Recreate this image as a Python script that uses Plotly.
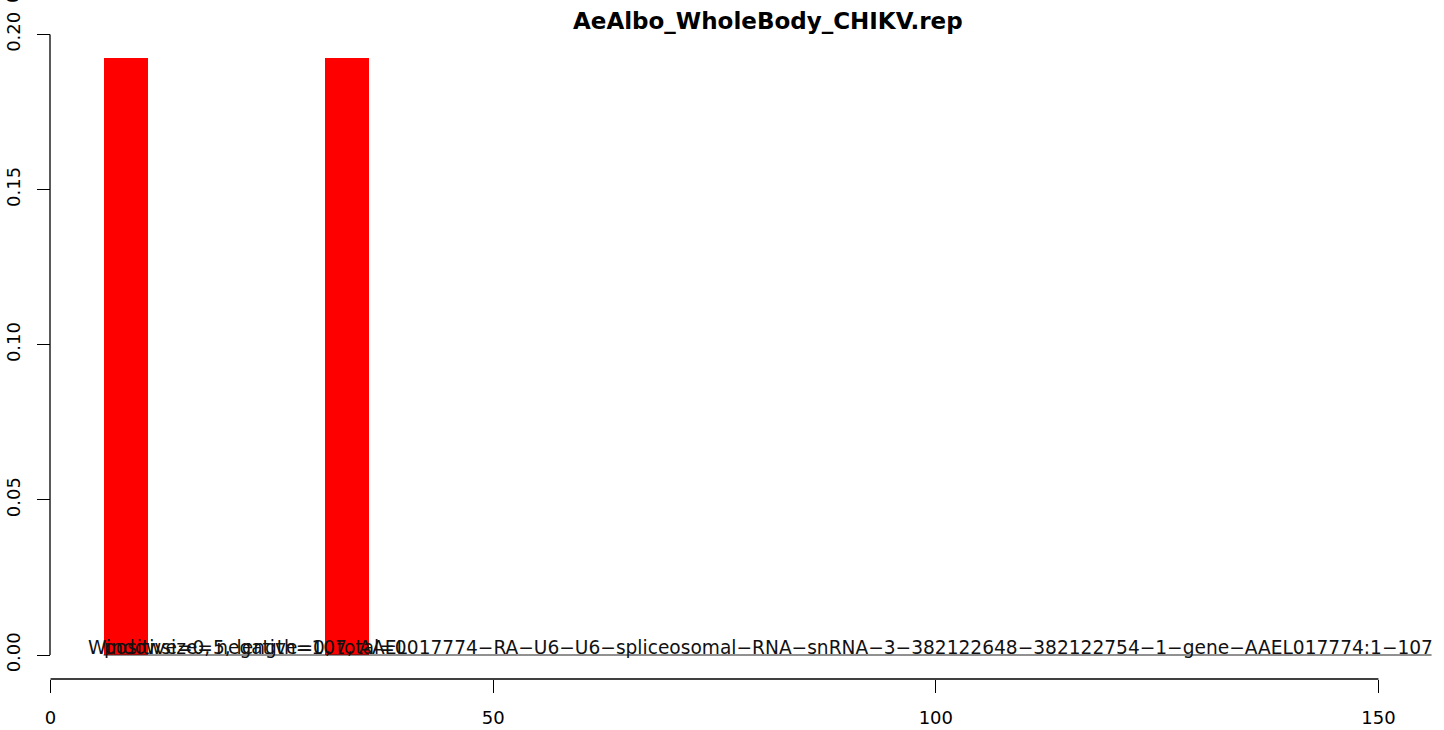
import plotly.graph_objects as go

# ---- data ----
title_text = "AeAlbo_WholeBody_CHIKV.rep"
window_size = 5
bar_start = [6, 31]
bar_value = [0.1924, 0.1924]
zero_line_x = [6, 156]
zero_line_y = [0, 0]
x_ticks = [0, 50, 100, 150]
y_ticks = [0.0, 0.05, 0.10, 0.15, 0.20]
info_text = ("Windowsize=5, length=107, AAEL017774\u2212RA\u2212U6\u2212U6\u2212spliceosomal\u2212RNA\u2212snRNA\u22123"
             "\u2212382122648\u2212382122754\u22121\u2212gene\u2212AAEL017774:1\u2212107")
count_text = "positive=0, negative=0, total=0"
info_x = 4.0
count_x = 5.8

W, H = 1444, 730
FONT = "DejaVu Sans, Liberation Sans, Arial, sans-serif"

# pixel calibration for axes
x0_px, x_scale = 50.5, 8.853
y0_px, y_scale = 655.0, 3102.5
x_range = [-x0_px / x_scale, (W - x0_px) / x_scale]
y_range = [(y0_px - H) / y_scale, y0_px / y_scale]

fig = go.Figure()
fig.add_trace(go.Bar(
    x=bar_start, y=bar_value, width=window_size, offset=0,
    marker=dict(color="#FF0000", line=dict(width=0)), showlegend=False,
    hoverinfo="skip"))
fig.add_trace(go.Scatter(
    x=zero_line_x, y=zero_line_y, mode="lines",
    line=dict(color="#222222", width=1), showlegend=False, hoverinfo="skip"))

xaxis_pos = (H - 679) / H
yaxis_pos = 50 / W

fig.update_layout(
    width=W, height=H,
    margin=dict(l=0, r=0, t=0, b=0),
    paper_bgcolor="white", plot_bgcolor="white",
    font=dict(family=FONT, size=18, color="black"),
    bargap=0,
    xaxis=dict(range=x_range, domain=[0, 1], anchor="free", position=xaxis_pos,
               showgrid=False, zeroline=False, showline=False,
               ticks="outside", ticklen=13, tickwidth=1, tickcolor="black",
               tickvals=x_ticks, ticktext=[str(v) for v in x_ticks],
               ticklabelstandoff=9,
               tickfont=dict(family=FONT, size=18, color="black"),
               automargin=False, fixedrange=True),
    yaxis=dict(range=y_range, domain=[0, 1], anchor="free", position=yaxis_pos,
               showgrid=False, zeroline=False, showline=False,
               ticks="outside", ticklen=13, tickwidth=1, tickcolor="black",
               tickvals=y_ticks, ticktext=["%.2f" % v for v in y_ticks],
               tickangle=-90, ticklabelstandoff=10,
               tickfont=dict(family=FONT, size=18, color="black"),
               automargin=False, fixedrange=True),
    shapes=[
        dict(type="line", xref="x", yref="paper", x0=x_ticks[0], x1=x_ticks[-1],
             y0=xaxis_pos, y1=xaxis_pos, line=dict(color="black", width=1.3)),
        dict(type="line", xref="paper", yref="y", x0=yaxis_pos, x1=yaxis_pos,
             y0=y_ticks[0], y1=y_ticks[-1], line=dict(color="black", width=1.3)),
    ],
    annotations=[
        dict(text="<b>" + title_text + "</b>", xref="paper", yref="paper",
             x=768 / W, y=1 - 21 / H, xanchor="center", yanchor="middle",
             showarrow=False, font=dict(family=FONT, size=23, color="black")),
        dict(text=info_text, xref="x", yref="y", x=info_x, y=0,
             xanchor="left", yanchor="bottom", yshift=-5, showarrow=False,
             font=dict(family=FONT, size=18.6, color="#111111")),
        dict(text=count_text, xref="x", yref="y", x=count_x, y=0,
             xanchor="left", yanchor="bottom", yshift=-5, showarrow=False,
             font=dict(family=FONT, size=18.6, color="#111111")),
        dict(text="0", xref="paper", yref="paper", x=13 / W, y=1 + 2 / H,
             xanchor="center", yanchor="middle", textangle=-90, showarrow=False,
             font=dict(family=FONT, size=18, color="black")),
    ],
)

fig.write_html("out.html", config={"displayModeBar": False},
               post_script="document.body.style.margin='0px';")
